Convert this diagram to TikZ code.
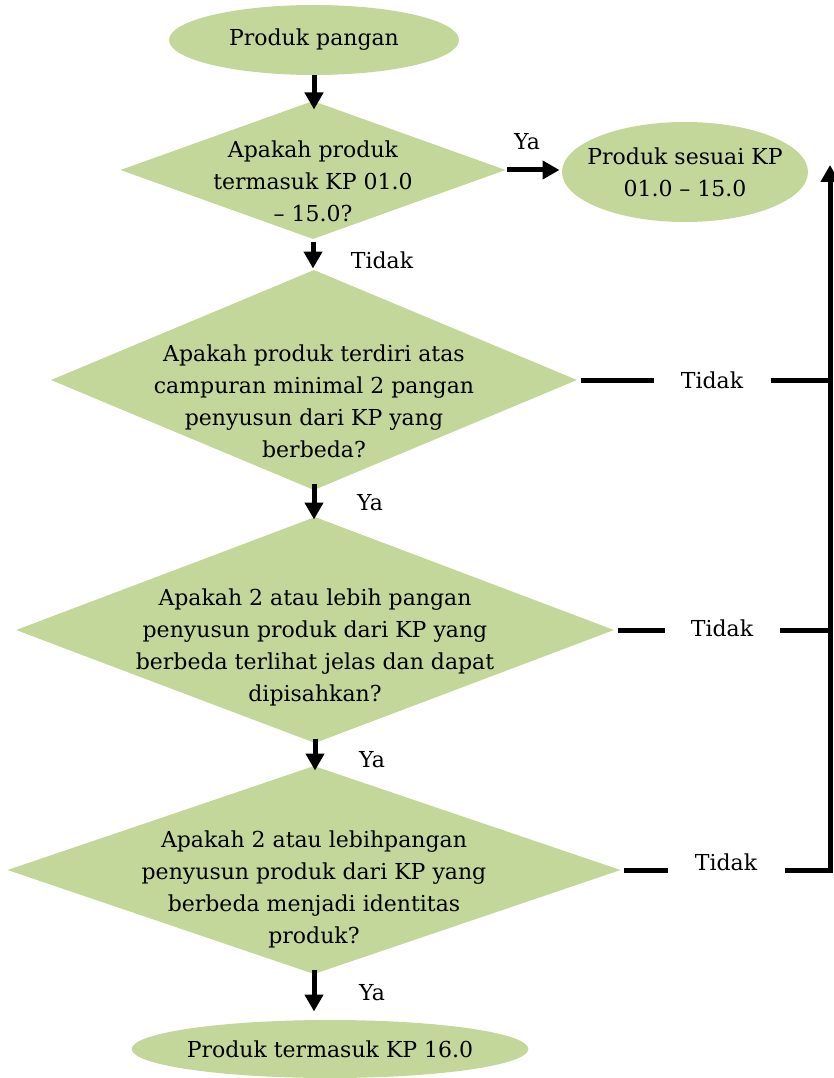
\documentclass[tikz,border=0pt]{standalone}
\usepackage{fontspec}
\setmainfont{DejaVu Serif}
\usepackage{tikz}
\usetikzlibrary{shapes.geometric}
\usetikzlibrary{arrows.meta}
\usetikzlibrary{positioning}
\definecolor{leaf}{HTML}{C4D79B}

\begin{document}
\begin{tikzpicture}[
	x=1pt, y=-1pt,
	font=\fontsize{22}{32}\selectfont,
	line width=5pt
]
\tikzset{
    terminal/.style = {ellipse, fill=leaf, draw=none, inner sep=0pt, align=center},
    decision/.style = {diamond, fill=leaf, draw=none, inner sep=0pt},
    qtext/.style = {align=center, inner sep=0pt},
    answer/.style = {inner sep=2pt},
    flow/.style = {-{Triangle[width=18pt,length=17pt]}}
}
\useasboundingbox (0,0) rectangle (834,1078);
% shapes
\node[terminal,minimum width=290pt,minimum height=70pt] (start) at (314,40) {Produk pangan};
\node[decision,minimum width=387pt,minimum height=140pt] (q1) at (313,170) {};
\node[terminal,inner sep=-11pt,minimum width=246pt,minimum height=100pt] (kp1) at (685,172) {Produk sesuai KP\\01.0 -- 15.0};
\node[decision,minimum width=528pt,minimum height=222pt] (q2) at (314,380) {};
\node[decision,minimum width=600pt,minimum height=228pt] (q3) at (315,630) {};
\node[decision,minimum width=615pt,minimum height=210pt] (q4) at (314,870) {};
\node[terminal,inner sep=-3pt,minimum width=396pt,minimum height=58pt] (kp16) at (330,1049) {Produk termasuk KP 16.0};
% questions
\node[qtext] at ([yshift=-11]q1.center) {Apakah produk\\termasuk KP 01.0\\-- 15.0?};
\node[qtext] at ([yshift=-21]q2.center) {Apakah produk terdiri atas\\campuran minimal 2 pangan\\penyusun dari KP yang\\berbeda?};
\node[qtext] at ([yshift=-17]q3.center) {Apakah 2 atau lebih pangan\\penyusun produk dari KP yang\\berbeda terlihat jelas dan dapat\\dipisahkan?};
\node[qtext] at ([yshift=-19]q4.center) {Apakah 2 atau lebihpangan\\penyusun produk dari KP yang\\berbeda menjadi identitas\\produk?};
% answers
\node[answer] (ya1) at (527,142) {Ya};
\node[answer] (no1) at (382,260) {Tidak};
\node[answer] (ya2) at (370,503) {Ya};
\node[answer] (ya3) at (372,760) {Ya};
\node[answer] (ya4) at (372,993) {Ya};
\node[answer,inner sep=0pt,minimum width=112pt] (no2) at (712,380) {Tidak};
\node[answer,inner sep=0pt,minimum width=110pt] (no3) at (722,628) {Tidak};
\node[answer,inner sep=0pt,minimum width=112pt] (no4) at (726,862) {Tidak};
\coordinate (j2) at (830,380);
\coordinate (j3) at (830,630);
\coordinate (j4) at (830,870);
\coordinate (top) at (830,165);
% connectors
\draw[flow,shorten <=-2pt,shorten >=-12pt] (start.south) -- (start.south |- q1.north);
\draw[flow,shorten <=-2pt] (q1.east) -- (q1.east -| kp1.west);
\draw[flow,shorten <=-1pt,shorten >=-2pt] (q1.south) -- (q1.south |- q2.north);
\draw[flow,shorten <=-10pt,shorten >=-6pt] (q2.south) -- (q2.south |- q3.north);
\draw[flow,shorten <=-8pt,shorten >=-8pt] (q3.south) -- (q3.south |- q4.north);
\draw[flow,shorten <=-8pt,shorten >=6pt] (q4.south) -- (q4.south |- kp16.north);
\draw (q2.east) -- (no2.west |- j2);
\draw (no2.east |- j2) -- (j2);
\draw (q3.east) -- (no3.west |- j3);
\draw (no3.east |- j3) -- (j3);
\draw (q4.east) -- (no4.west |- j4);
\draw[flow] (no4.east |- j4) -| (top);
\end{tikzpicture}
\end{document}
